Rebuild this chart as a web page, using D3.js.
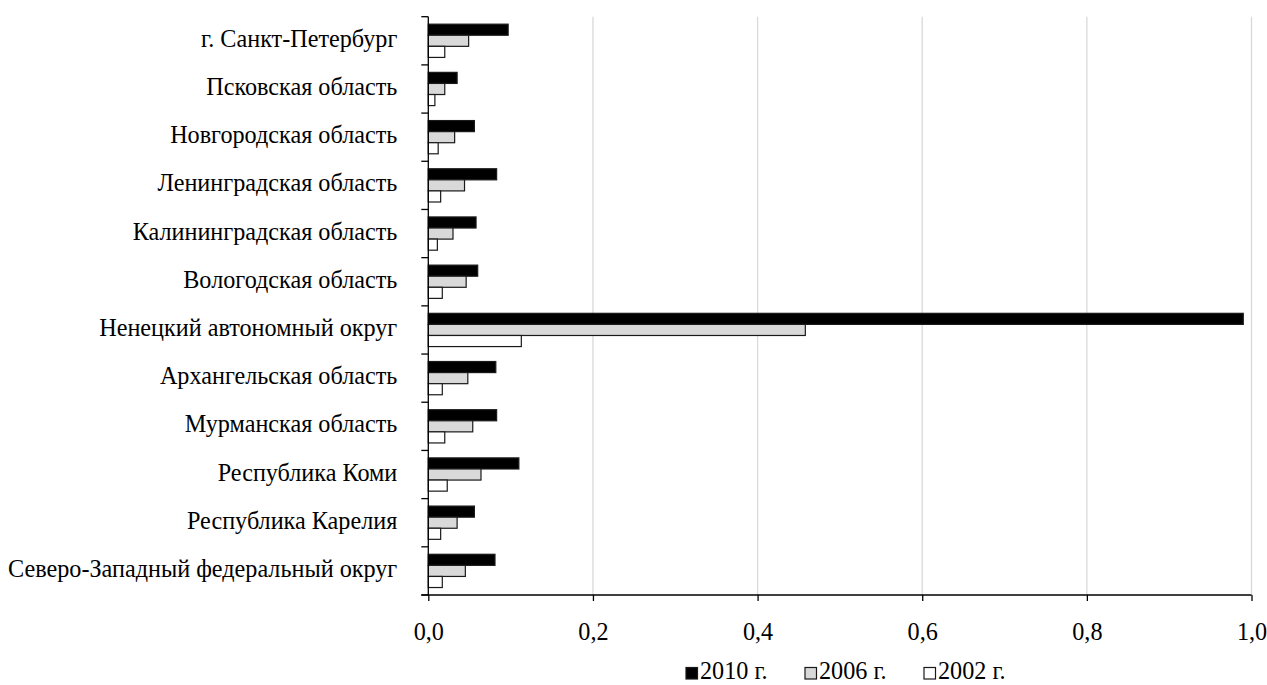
<!DOCTYPE html>
<html><head><meta charset="utf-8">
<script src="https://cdn.jsdelivr.net/npm/d3@7"></script>
<style>body{margin:0;background:#fff}svg{display:block}text{font-family:"Liberation Serif","Times New Roman",serif;fill:#000}</style>
</head><body><svg id="c" width="1267" height="685"></svg>
<script>
const categories = ["г. Санкт-Петербург","Псковская область","Новгородская область","Ленинградская область","Калининградская область","Вологодская область","Ненецкий автономный округ","Архангельская область","Мурманская область","Республика Коми","Республика Карелия","Северо-Западный федеральный округ"];
const seriesNames = ["2010 г.","2006 г.","2002 г."];
const values2010 = [0.097,0.035,0.056,0.083,0.058,0.060,0.990,0.082,0.083,0.110,0.056,0.081];
const values2006 = [0.049,0.020,0.032,0.044,0.030,0.046,0.458,0.048,0.054,0.064,0.035,0.045];
const values2002 = [0.020,0.008,0.012,0.015,0.011,0.017,0.113,0.017,0.020,0.023,0.015,0.017];
const xTicks = [0,0.2,0.4,0.6,0.8,1.0];
const colors = ["#000000","#d9d9d9","#ffffff"];

const series = [values2010, values2006, values2002];
const svg = d3.select("#c");
const L = 428.3, R = 1251.5, T = 16.7, B = 595;
const FS = 24.2;
const x = d3.scaleLinear().domain([0,1]).range([L,R]);
const y = d3.scaleBand().domain(categories).range([T,B]).paddingInner(0.31).paddingOuter(0.155);
const y1 = d3.scaleBand().domain(seriesNames).range([0,y.bandwidth()]);
const fmt = d => d.toFixed(1).replace(".", ",");

// gridlines
svg.append("g").selectAll("line").data(xTicks.filter(d=>d>0)).join("line")
  .attr("x1",d=>x(d)).attr("x2",d=>x(d)).attr("y1",T).attr("y2",B)
  .attr("stroke","#d9d9d9").attr("stroke-width",1.3);

// bars
const g = svg.append("g");
categories.forEach((c,i)=>{
  series.forEach((s,j)=>{
    g.append("rect").attr("x",x(0)).attr("y",y(c)+y1(seriesNames[j]))
      .attr("width",x(s[i])-x(0)).attr("height",y1.bandwidth())
      .attr("fill",colors[j]).attr("stroke","#1a1a1a").attr("stroke-width",1.2);
  });
});

// x axis
const xa = svg.append("g").attr("transform",`translate(0,${B})`)
  .call(d3.axisBottom(x).tickValues(xTicks).tickFormat(fmt).tickSize(6).tickSizeOuter(0));
xa.select(".domain").attr("stroke","#000").attr("stroke-width",1.3).attr("d",`M${L-7},0H${R}`);
xa.selectAll(".tick line").attr("stroke","#000").attr("stroke-width",1.3);
xa.selectAll(".tick text").attr("font-size",FS).attr("font-family","Liberation Serif").attr("y",45).attr("dy",null);

// y axis
const ya = svg.append("g").attr("transform",`translate(${L},0)`);
ya.append("line").attr("x1",0).attr("x2",0).attr("y1",T).attr("y2",B).attr("stroke","#000").attr("stroke-width",1.3);
const step = (B-T)/categories.length;
ya.selectAll("line.t").data(d3.range(categories.length+1)).join("line").attr("class","t")
  .attr("x1",-7).attr("x2",0).attr("y1",i=>T+i*step).attr("y2",i=>T+i*step)
  .attr("stroke","#000").attr("stroke-width",1.3);
ya.selectAll("text").data(categories).join("text")
  .attr("x",-31).attr("y",c=>y(c)+y.bandwidth()/2).attr("dy","0.25em")
  .attr("text-anchor","end").attr("font-size",FS).text(d=>d);

// legend
const legX = [686, 805, 924];
const lg = svg.append("g");
seriesNames.forEach((n,j)=>{
  lg.append("rect").attr("x",legX[j]).attr("y",667.5).attr("width",11.5).attr("height",11.5)
    .attr("fill",colors[j]).attr("stroke","#1a1a1a").attr("stroke-width",1.2);
  lg.append("text").attr("x",legX[j]+14).attr("y",679).attr("font-size",FS).text(n);
});
</script></body></html>
